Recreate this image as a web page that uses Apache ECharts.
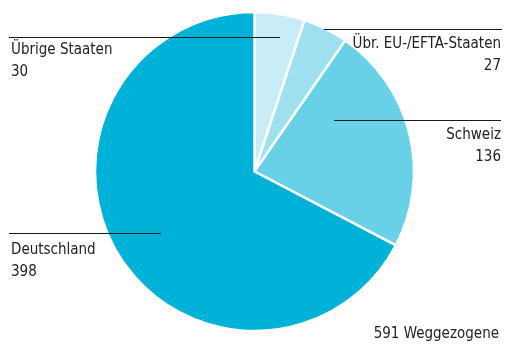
<!DOCTYPE html>
<html>
<head>
<meta charset="utf-8">
<script src="https://cdn.jsdelivr.net/npm/echarts@6/dist/echarts.min.js"></script>
<style>
  html, body { margin: 0; padding: 0; background: #fff; }
  #chart { width: 514px; height: 344px; }
</style>
</head>
<body>
<div id="chart"></div>
<script>
// Weggezogene nach Zielland
const categories = ['Übrige Staaten', 'Übr. EU-/EFTA-Staaten', 'Schweiz', 'Deutschland'];
const values = [30, 27, 136, 398];
const sliceColors = ['#c9edf6', '#9fe0ef', '#68d1e7', '#00b1d8'];

// Placement of each label and its horizontal leader line
const labelSpots = [
  { x: 11,  y: 39,  align: 'left',  line: [[280, 37.5], [9, 37.5]] },
  { x: 501, y: 33,  align: 'right', line: [[324, 29.5], [502, 29.5]] },
  { x: 501, y: 124, align: 'right', line: [[334, 120.5], [501, 120.5]] },
  { x: 11,  y: 239, align: 'left',  line: [[161, 233.5], [9, 233.5]] }
];

const total = values.reduce((a, b) => a + b, 0);
const fontFamily = '"Liberation Sans Narrow", "DejaVu Sans Condensed", sans-serif';
const fontSize = 15;

const chart = echarts.init(document.getElementById('chart'), null, { renderer: 'canvas' });
chart.setOption({
  animation: false,
  title: {
    text: total + ' Weggezogene',
    right: 15,
    top: 327,
    padding: 0,
    textStyle: { fontFamily, fontSize, fontWeight: 'normal', color: '#222' }
  },
  // leader lines running from inside each slice out to its label
  graphic: labelSpots.map(s => ({
    type: 'polyline',
    z: 10,
    silent: true,
    shape: { points: s.line },
    style: { stroke: '#1a1a1a', lineWidth: 1, fill: null }
  })),
  series: [{
    type: 'pie',
    center: [254.5, 171.5],
    radius: 159.5,
    startAngle: 90,
    clockwise: true,
    silent: true,
    itemStyle: { borderColor: '#fff', borderWidth: 2.5 },
    data: categories.map((name, i) => ({
      name,
      value: values[i],
      itemStyle: { color: sliceColors[i] }
    })),
    label: {
      show: true,
      formatter: '{b}\n{c}',
      fontFamily,
      fontSize,
      lineHeight: 22,
      color: '#222',
      overflow: 'none'
    },
    labelLine: { show: false },
    labelLayout: function (params) {
      const s = labelSpots[params.dataIndex];
      return {
        x: s.x,
        y: s.y,
        align: s.align,
        verticalAlign: 'top',
        width: 300,
        hideOverlap: false
      };
    }
  }]
});
</script>
</body>
</html>
